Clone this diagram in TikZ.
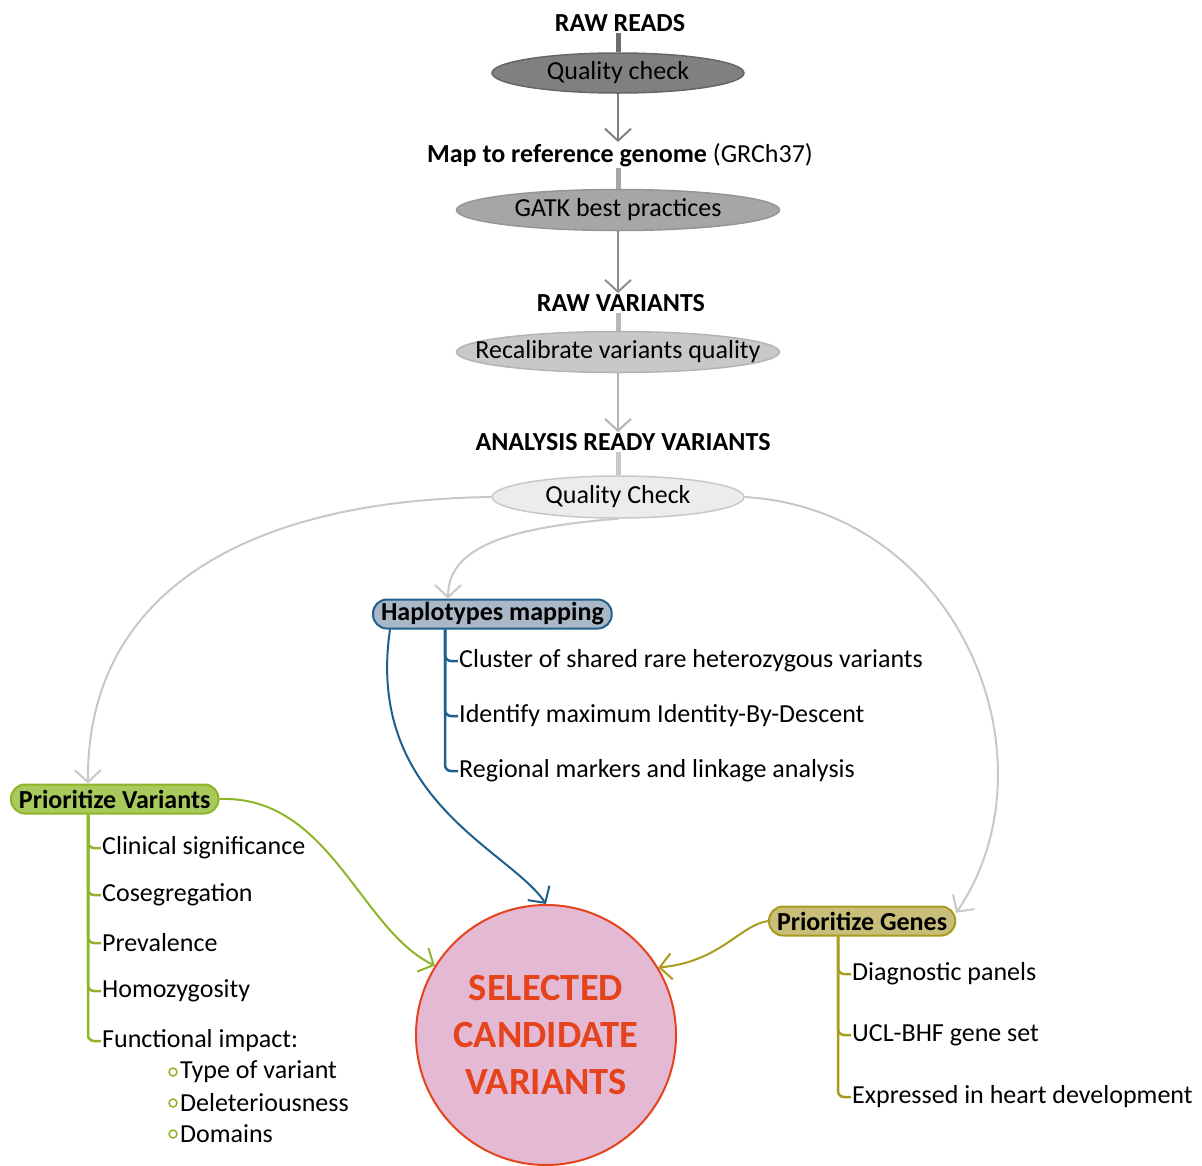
\documentclass[tikz,border=0pt]{standalone}
\usepackage{fontspec}
\setmainfont{Carlito}
\usetikzlibrary{arrows.meta,shapes.geometric}

\definecolor{stageA}{HTML}{808080}
\definecolor{stageB}{HTML}{A6A6A6}
\definecolor{stageC}{HTML}{C8C8C8}
\definecolor{stageD}{HTML}{ECECEC}
\definecolor{hapfill}{HTML}{AAB7C6}
\definecolor{hapline}{HTML}{1F5F8B}
\definecolor{pvfill}{HTML}{A8C95C}
\definecolor{pvline}{HTML}{8DB52A}
\definecolor{pgfill}{HTML}{C9BD7A}
\definecolor{pgline}{HTML}{A89B1E}
\definecolor{selfill}{HTML}{E4B9D4}
\definecolor{selline}{HTML}{E4431B}

\tikzset{
  stage/.style={ellipse, draw, line width=1.5pt, inner xsep=-30pt, inner ysep=0pt},
  heading/.style={font=\fontsize{26}{30}\selectfont\bfseries, inner sep=1pt},
  stub/.style={line width=5pt},
  flow/.style={line width=2pt, -{Straight Barb[length=12pt,width=26pt,line width=2pt]}},
  hub/.style={rectangle, rounded corners=14pt, draw, line width=2pt, minimum height=29pt,
    inner xsep=8pt, inner ysep=0pt, font=\fontsize{26}{30}\selectfont\bfseries},
  item/.style={anchor=west, inner sep=1pt},
  branch/.style={line width=2.5pt, rounded corners=6pt},
  dot/.style={circle, draw=pvline, line width=1.5pt, minimum size=8pt, inner sep=0pt}
}

\begin{document}
\begin{tikzpicture}[x=1pt,y=-1pt,font=\fontsize{26}{30}\selectfont]
\useasboundingbox (0,0) rectangle (1202,1165);

\node[heading] (rawreads) at (620,23) {RAW READS};
\node[stage, fill=stageA, draw=stageA!80!black, minimum width=252, minimum height=40] (qc1) at (618,73) {Quality check};
\node[inner sep=1pt] (map) at (620,155) {{\bfseries Map to reference genome} (GRCh37)};
\node[stage, fill=stageB, draw=stageB!90!black, minimum width=323, minimum height=41] (gatk) at (618,210) {GATK best practices};
\node[heading] (rawvar) at (621,303) {RAW VARIANTS};
\node[stage, fill=stageC, draw=stageC!90!black, minimum width=323, minimum height=41] (recal) at (618,352) {Recalibrate variants quality};
\node[heading] (ready) at (623,442) {ANALYSIS READY VARIANTS};
\node[stage, fill=stageD, draw=stageC, minimum width=252, minimum height=42] (qc2) at (618,497) {Quality Check};

\draw[stub, draw=stageA!85!black] (rawreads.south -| qc1.north) -- (qc1.north);
\draw[stub, draw=stageB] (map.south -| gatk.north) -- (gatk.north);
\draw[stub, draw=stageB!80] (rawvar.south -| recal.north) -- (recal.north);
\draw[stub, draw=stageC] (ready.south -| qc2.north) -- (qc2.north);

\draw[flow, draw=stageA] (qc1.south) -- (map.north -| qc1.south);
\draw[flow, draw=stageA!90] (gatk.south) -- (rawvar.north -| gatk.south);
\draw[flow, draw=stageC!90!black] (recal.south) -- (ready.north -| recal.south);

\node[hub, anchor=west, fill=hapfill, draw=hapline] (hap) at (372,614) {Haplotypes mapping};
\node[hub, anchor=west, fill=pvfill, draw=pvline] (prv) at (10,799) {Prioritize Variants};
\node[hub, anchor=west, fill=pgfill, draw=pgline] (prg) at (768,921) {Prioritize Genes};
\node[circle, fill=selfill, draw=selline, line width=2pt, minimum size=260, inner sep=0pt,
  text=selline, align=center, font=\fontsize{38.5}{47}\selectfont\bfseries] (sel) at (546,1035)
  {SELECTED\\CANDIDATE\\VARIANTS};

\draw[flow, draw=stageC] (qc2.west) .. controls (250,500) and (86,590) .. ([xshift=78pt]prv.north west);
\draw[flow, draw=stageC] (qc2.south) .. controls (500,528) and (448,550) .. ([xshift=76pt]hap.north west);
\draw[flow, draw=stageC] (qc2.east) .. controls (960,510) and (1060,760) .. (prg.5);

\coordinate (hapstem) at (445,0);
\node[item] (hap1) at (458,661) {Cluster of shared rare heterozygous variants};
\node[item] (hap2) at (458,716) {Identify maximum Identity-By-Descent};
\node[item] (hap3) at (458,771) {Regional markers and linkage analysis};
\foreach \n in {hap1,hap2,hap3}
  \draw[branch, draw=hapline] (hap.south -| hapstem) |- (\n.west);

\coordinate (pvstem) at (88,0);
\node[item] (pv1) at (101,848) {Clinical significance};
\node[item] (pv2) at (101,895) {Cosegregation};
\node[item] (pv3) at (101,943) {Prevalence};
\node[item] (pv4) at (101,991) {Homozygosity};
\node[item] (pv5) at (101,1041) {Functional impact:};
\foreach \n in {pv1,pv2,pv3,pv4,pv5}
  \draw[branch, draw=pvline] (prv.south -| pvstem) |- (\n.west);
\node[dot] (d1) at (173,1072) {};
\node[item] (fi1) at (179,1072) {Type of variant};
\node[dot] (d2) at (173,1103) {};
\node[item] (fi2) at (179,1103) {Deleteriousness};
\node[dot] (d3) at (173,1134) {};
\node[item] (fi3) at (179,1134) {Domains};

\coordinate (pgstem) at (838,0);
\node[item] (pg1) at (851,974) {Diagnostic panels};
\node[item] (pg2) at (851,1035) {UCL-BHF gene set};
\node[item] (pg3) at (851,1097) {Expressed in heart development};
\foreach \n in {pg1,pg2,pg3}
  \draw[branch, draw=pgline] (prg.south -| pgstem) |- (\n.west);

\draw[flow, draw=hapline] ([xshift=18pt]hap.south west) .. controls (365,800) and (510,850) .. (sel.north);
\draw[flow, draw=pvline] (prv.east) .. controls (330,795) and (360,930) .. (sel.148);
\draw[flow, draw=pgline] (prg.west) .. controls (740,925) and (720,962) .. (sel.31);
\end{tikzpicture}
\end{document}
